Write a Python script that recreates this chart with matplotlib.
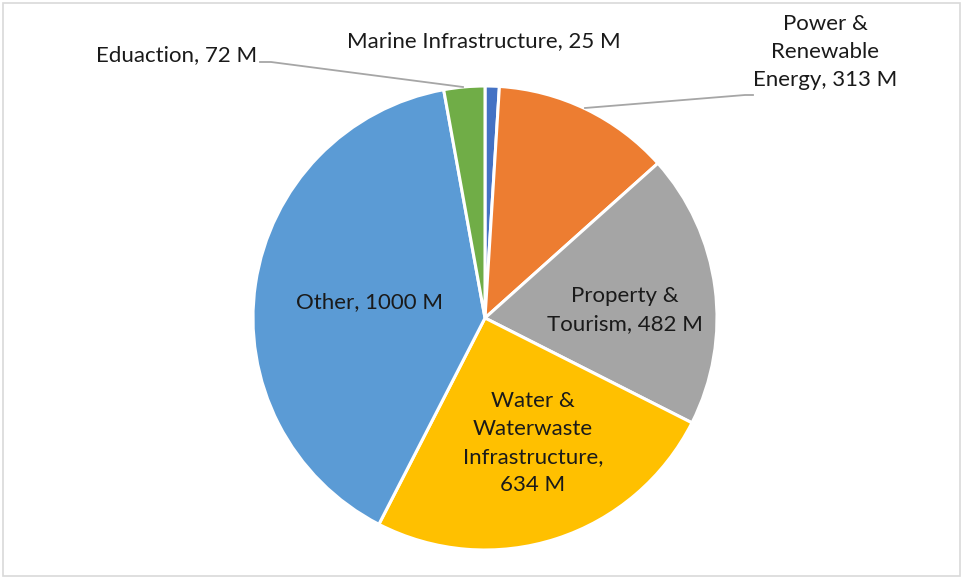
import matplotlib
matplotlib.use("Agg")
import matplotlib.pyplot as plt
from matplotlib.patches import Rectangle

categories = ["Marine Infrastructure", "Power & Renewable Energy", "Property & Tourism",
              "Water & Waterwaste Infrastructure", "Other", "Eduaction"]
values = [25, 313, 482, 634, 1000, 72]
colors = ["#4472C4", "#ED7D31", "#A5A5A5", "#FFC000", "#5B9BD5", "#70AD47"]

labels = [
    "Marine Infrastructure, 25 M",
    "Power &\nRenewable\nEnergy, 313 M",
    "Property &\nTourism, 482 M",
    "Water &\nWaterwaste\nInfrastructure,\n634 M",
    "Other, 1000 M",
    "Eduaction, 72 M",
]
# label anchor positions in canvas pixels (x, y from top)
label_pos = [(484, 41), (825, 52), (625, 310), (533, 443), (369, 302), (177, 55)]

W, H = 963, 579
fig = plt.figure(figsize=(W / 100, H / 100), dpi=100)
ax = fig.add_axes([0, 0, 1, 1])

cx, cy, r = 485, H - 318, 232
ax.pie(values, colors=colors, startangle=90, counterclock=False,
       center=(cx, cy), radius=r, frame=True,
       wedgeprops=dict(edgecolor="white", linewidth=2.2))
ax.set_xlim(0, W)
ax.set_ylim(0, H)
ax.axis("off")

font = dict(family=["Lato", "DejaVu Sans"], fontsize=16, color="#1a1a1a",
            ha="center", va="center", linespacing=1.52)
for lab, (x, y) in zip(labels, label_pos):
    ax.text(x, H - y, lab, **font)

# leader lines
ax.plot([260, 271, 463], [H - 62, H - 62, H - 87], color="#a6a6a6", lw=1.3)
ax.plot([585, 745, 753], [H - 108, H - 95, H - 95], color="#a6a6a6", lw=1.3)

# outer frame
fig.patches.append(Rectangle((3 / W, 3 / H), (W - 6) / W, (H - 6) / H,
                             transform=fig.transFigure, fill=False,
                             edgecolor="#d9d9d9", lw=1.2))

fig.savefig("out.png", dpi=100)
